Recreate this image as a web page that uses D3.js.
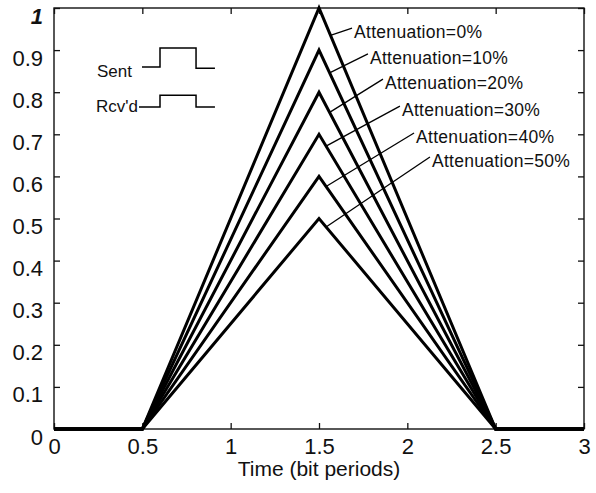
<!DOCTYPE html>
<html>
<head>
<meta charset="utf-8">
<script src="https://cdn.jsdelivr.net/npm/d3@7"></script>
<style>
  html, body { margin: 0; padding: 0; background: #fff; }
  svg { display: block; font-family: "Liberation Sans", Arial, sans-serif; }
</style>
</head>
<body>
<svg id="chart" width="596" height="493"></svg>
<script>
// ---- data ----
const timePoints = [0, 0.5, 1.5, 2.5, 3];
const attenuationLabels = ["Attenuation=0%", "Attenuation=10%", "Attenuation=20%", "Attenuation=30%", "Attenuation=40%", "Attenuation=50%"];
const series0 = [0, 0, 1.0, 0, 0];
const series10 = [0, 0, 0.9, 0, 0];
const series20 = [0, 0, 0.8, 0, 0];
const series30 = [0, 0, 0.7, 0, 0];
const series40 = [0, 0, 0.6, 0, 0];
const series50 = [0, 0, 0.5, 0, 0];
const allSeries = [series0, series10, series20, series30, series40, series50];

const xTickValues = [0, 0.5, 1, 1.5, 2, 2.5, 3];
const xTickLabels = ["0", "0.5", "1", "1.5", "2", "2.5", "3"];
const yTickValues = [0, 0.1, 0.2, 0.3, 0.4, 0.5, 0.6, 0.7, 0.8, 0.9, 1];
const yTickLabels = ["0", "0.1", "0.2", "0.3", "0.4", "0.5", "0.6", "0.7", "0.8", "0.9", "1"];
const xAxisTitle = "Time (bit periods)";

// annotation leader lines: start on falling edge (x), label anchor (x, y)
const leaderStartX = [1.565, 1.56, 1.56, 1.54, 1.54, 1.54];
const labelAnchorX = [1.687, 1.777, 1.862, 1.958, 2.038, 2.128];
const labelAnchorY = [0.952, 0.891, 0.831, 0.767, 0.703, 0.646];

// inset waveforms
const insetNames = ["Sent", "Rcv'd"];
const insetNameX = [0.441, 0.475];
const insetNameY = [0.848, 0.767];
const sentX = [0.498, 0.600, 0.600, 0.804, 0.804, 0.911];
const sentY = [0.860, 0.860, 0.905, 0.905, 0.857, 0.857];
const rcvdX = [0.481, 0.600, 0.600, 0.804, 0.804, 0.911];
const rcvdY = [0.765, 0.765, 0.793, 0.793, 0.765, 0.765];

// ---- layout ----
const svg = d3.select("#chart");
const mLeft = 54, mRight = 584, mTop = 8, mBottom = 429;
const x = d3.scaleLinear().domain([0, 3]).range([mLeft, mRight]);
const y = d3.scaleLinear().domain([0, 1]).range([mBottom, mTop]);
const ink = "#111";

// frame
svg.append("rect")
  .attr("x", mLeft).attr("y", mTop)
  .attr("width", mRight - mLeft).attr("height", mBottom - mTop)
  .attr("fill", "none").attr("stroke", ink).attr("stroke-width", 1.4);

// axes (ticks inward)
const xAxisB = d3.axisBottom(x).tickValues(xTickValues).tickSizeInner(-6).tickSizeOuter(0)
  .tickFormat((d, i) => xTickLabels[i]).tickPadding(10);
const gx = svg.append("g").attr("transform", `translate(0,${mBottom})`).call(xAxisB);
gx.select(".domain").remove();
gx.selectAll("line").attr("stroke", ink).attr("stroke-width", 1.3);
gx.selectAll("text").attr("font-size", 22).attr("fill", ink)
  .attr("dy", null).attr("y", 17).attr("dominant-baseline", "central");

const xAxisT = d3.axisTop(x).tickValues(xTickValues).tickSizeInner(-6).tickSizeOuter(0).tickFormat("");
const gxt = svg.append("g").attr("transform", `translate(0,${mTop})`).call(xAxisT);
gxt.select(".domain").remove();
gxt.selectAll("line").attr("stroke", ink).attr("stroke-width", 1.3);

const yAxisL = d3.axisLeft(y).tickValues(yTickValues).tickSizeInner(-6).tickSizeOuter(0)
  .tickFormat((d, i) => yTickLabels[i]).tickPadding(11);
const gy = svg.append("g").attr("transform", `translate(${mLeft},0)`).call(yAxisL);
gy.select(".domain").remove();
gy.selectAll("line").attr("stroke", ink).attr("stroke-width", 1.3);
gy.selectAll("text").attr("font-size", 22).attr("fill", ink)
  .attr("x", -11).attr("dominant-baseline", "central").attr("dy", 7.5);
gy.selectAll(".tick").filter(d => d === 1).select("text")
  .attr("font-style", "italic").attr("font-weight", "bold");

const yAxisR = d3.axisRight(y).tickValues(yTickValues).tickSizeInner(-6).tickSizeOuter(0).tickFormat("");
const gyr = svg.append("g").attr("transform", `translate(${mRight},0)`).call(yAxisR);
gyr.select(".domain").remove();
gyr.selectAll("line").attr("stroke", ink).attr("stroke-width", 1.3);

// axis title
svg.append("text")
  .attr("x", (mLeft + mRight) / 2).attr("y", 468)
  .attr("text-anchor", "middle").attr("dominant-baseline", "central")
  .attr("font-size", 21).attr("fill", ink)
  .text(xAxisTitle);

// series lines
const line = d3.line().x((d, i) => x(timePoints[i])).y(d => y(d));
svg.append("g").selectAll("path").data(allSeries).join("path")
  .attr("d", line)
  .attr("fill", "none").attr("stroke", "#000").attr("stroke-width", 3)
  .attr("stroke-linejoin", "miter");

// annotations
const ann = svg.append("g");
attenuationLabels.forEach((lab, i) => {
  const s = allSeries[i];
  const peak = s[2];
  const tx = leaderStartX[i];
  const ty = peak * (timePoints[3] - tx) / (timePoints[3] - timePoints[2]);
  ann.append("line")
    .attr("x1", x(tx)).attr("y1", y(ty))
    .attr("x2", x(labelAnchorX[i])).attr("y2", y(labelAnchorY[i]))
    .attr("stroke", "#000").attr("stroke-width", 1.3);
  ann.append("text")
    .attr("x", x(labelAnchorX[i]) + 2).attr("y", y(labelAnchorY[i]) + 4)
    .attr("dominant-baseline", "central")
    .attr("font-size", 17.5).attr("letter-spacing", 0.3).attr("fill", ink)
    .text(lab);
});

// inset
const inset = svg.append("g");
const wave = d3.line().x(d => x(d[0])).y(d => y(d[1]));
inset.append("path").attr("d", wave(sentX.map((v, i) => [v, sentY[i]])))
  .attr("fill", "none").attr("stroke", "#000").attr("stroke-width", 1.5);
inset.append("path").attr("d", wave(rcvdX.map((v, i) => [v, rcvdY[i]])))
  .attr("fill", "none").attr("stroke", "#000").attr("stroke-width", 1.5);
insetNames.forEach((n, i) => {
  inset.append("text")
    .attr("x", x(insetNameX[i])).attr("y", y(insetNameY[i]))
    .attr("text-anchor", "end").attr("dominant-baseline", "central")
    .attr("font-size", 17).attr("fill", ink)
    .text(n);
});
</script>
</body>
</html>
